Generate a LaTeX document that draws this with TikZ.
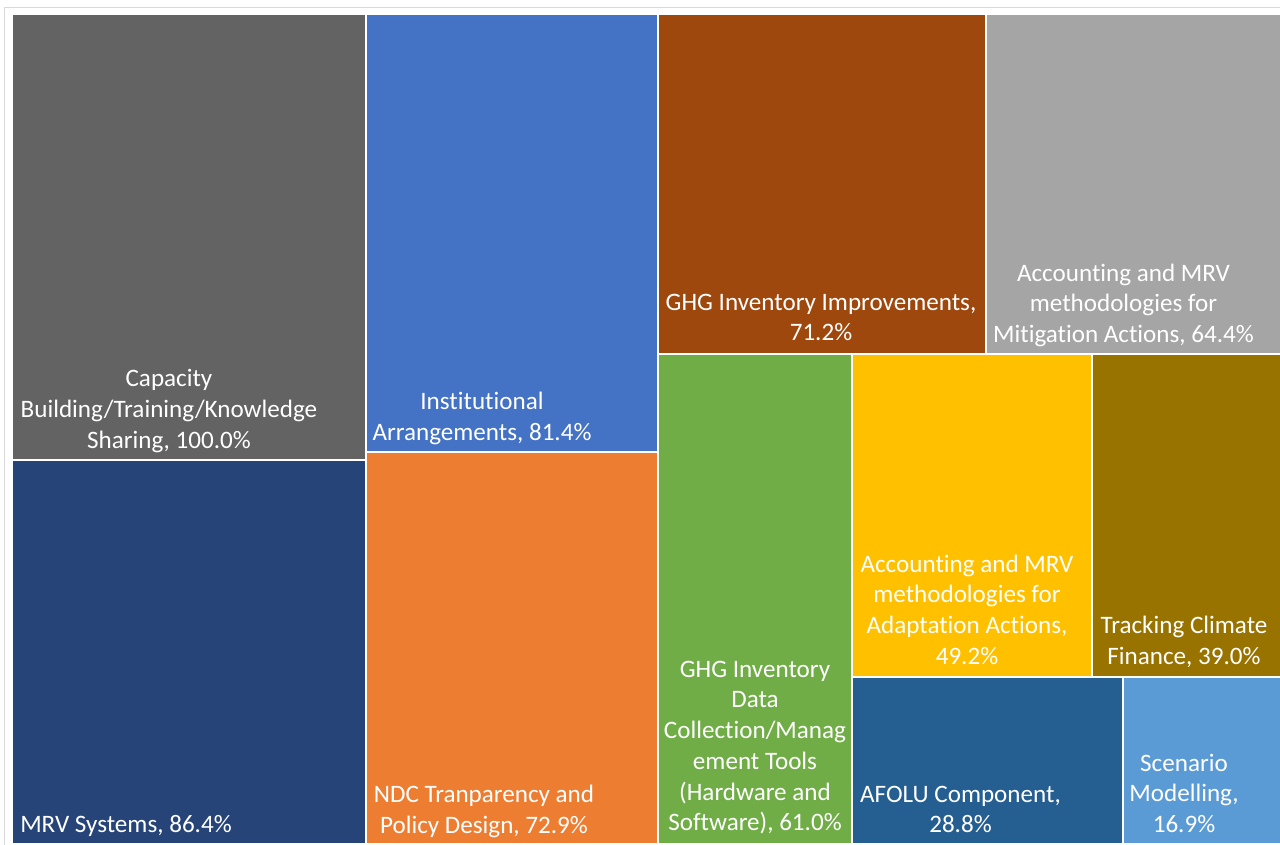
\documentclass[tikz,border=0pt]{standalone}
\usepackage{fontspec}
\setmainfont[RawFeature={-liga;-clig;-dlig}]{Carlito}
\newcommand{\tI}{t\kern0pt i}
\definecolor{cGray}{HTML}{636363}
\definecolor{cBlue}{HTML}{4472C4}
\definecolor{cBrown}{HTML}{9E480E}
\definecolor{cLGray}{HTML}{A5A5A5}
\definecolor{cGreen}{HTML}{70AD47}
\definecolor{cYellow}{HTML}{FFC000}
\definecolor{cOlive}{HTML}{997300}
\definecolor{cNavy}{HTML}{264478}
\definecolor{cOrange}{HTML}{ED7D31}
\definecolor{cAfolu}{HTML}{255E91}
\definecolor{cSky}{HTML}{5B9BD5}
\definecolor{cFrame}{HTML}{D9D9D9}
\tikzset{
  lbl/.style={text=white, align=center, inner sep=0pt, anchor=north,
    font=\fontsize{25.1bp}{30.7bp}\selectfont},
}
\begin{document}
\begin{tikzpicture}[x=1bp,y=-1bp]
\useasboundingbox (0,0) rectangle (1280,845);
\fill[white] (0,0) rectangle (1280,845);
\draw[cFrame, line width=1bp] (4.5,7) rectangle (1300,860);
% tiles
\fill[cGray]   (13,15)   rectangle (365,459);
\fill[cNavy]   (13,461)  rectangle (365,843);
\fill[cBlue]   (367,15)  rectangle (657,451);
\fill[cOrange] (367,453) rectangle (657,843);
\fill[cBrown]  (659,15)  rectangle (985,353);
\fill[cLGray]  (987,15)  rectangle (1280,353);
\fill[cGreen]  (659,355) rectangle (851,843);
\fill[cYellow] (853,355) rectangle (1091,676);
\fill[cOlive]  (1093,355) rectangle (1280,676);
\fill[cAfolu]  (853,678) rectangle (1122,843);
\fill[cSky]    (1124,678) rectangle (1280,843);
% labels (y = first baseline - strut height)
\node[lbl] (capacity) at (169,{386.5-21.49}) {\strut Capacity\\Building/Training/Knowledge\\Sharing, 100.0\%};
\node[lbl] (mrv) at (126,{832.5-21.49}) {\strut MRV Systems, 86.4\%};
\node[lbl] (inst) at (482,{409.5-21.49}) {\strut Ins\tI tu\tI onal\\Arrangements, 81.4\%};
\node[lbl] (ndc) at (484,{802.5-21.49}) {\strut NDC Tranparency and\\Policy Design, 72.9\%};
\node[lbl] (ghgimp) at (821,{310-21.49}) {\strut GHG Inventory Improvements,\\71.2\%};
\node[lbl] (mitig) at (1123.5,{281-21.49}) {\strut Accoun\tI ng and MRV\\methodologies for\\Mi\tI ga\tI on Ac\tI ons, 64.4\%};
\node[lbl] (ghgdata) at (755,{677-21.49}) {\strut GHG Inventory\\Data\\Collec\tI on/Manag\\ement Tools\\(Hardware and\\Software), 61.0\%};
\node[lbl] (adapt) at (967,{572-21.49}) {\strut Accoun\tI ng and MRV\\methodologies for\\Adapta\tI on Ac\tI ons,\\49.2\%};
\node[lbl] (finance) at (1184,{633.5-21.49}) {\strut Tracking Climate\\Finance, 39.0\%};
\node[lbl] (afolu) at (960.5,{802-21.49}) {\strut AFOLU Component,\\28.8\%};
\node[lbl] (scen) at (1184,{771-21.49}) {\strut Scenario\\Modelling,\\16.9\%};
\end{tikzpicture}
\end{document}
